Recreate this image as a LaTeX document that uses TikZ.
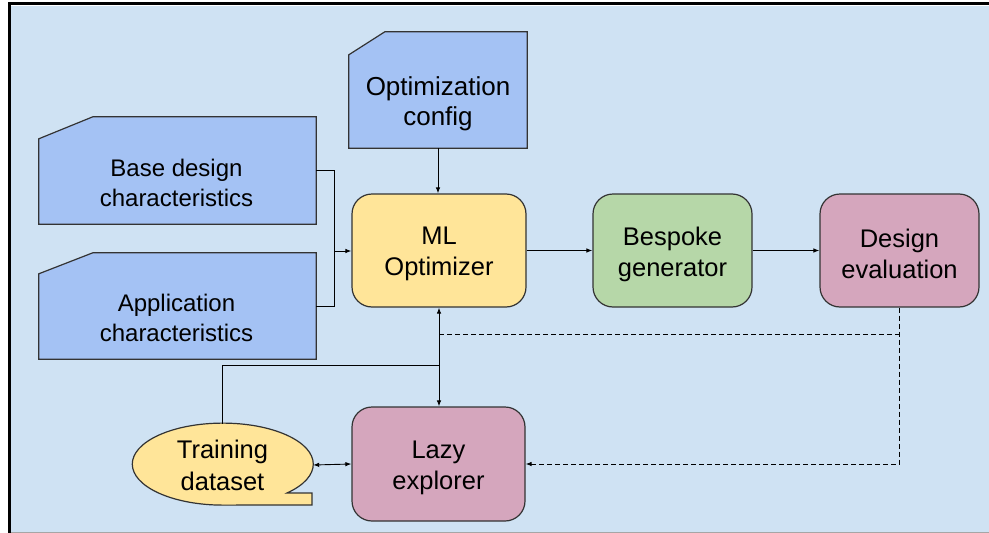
\documentclass[tikz,border=0pt]{standalone}
\usepackage{fontspec}
\setmainfont{Liberation Sans}
\usetikzlibrary{shapes.geometric,arrows.meta,calc}
\definecolor{bgblue}{HTML}{CFE2F3}
\definecolor{boxblue}{HTML}{A4C2F4}
\definecolor{boxyellow}{HTML}{FFE599}
\definecolor{boxgreen}{HTML}{B6D7A8}
\definecolor{boxpink}{HTML}{D5A6BD}
\definecolor{edge}{HTML}{333333}
\tikzset{
  shapeline/.style={draw=edge,line width=1.2pt},
  txt/.style={align=center,font=\fontsize{24}{30}\selectfont,inner sep=0pt},
  bigtxt/.style={align=center,font=\fontsize{25.5}{31}\selectfont,inner sep=0pt},
  anchorbox/.style={rectangle,inner sep=0pt},
  roundbox/.style={shapeline,rounded corners=20pt,rectangle,inner sep=0pt},
  conn/.style={draw=black,line width=0.9pt},
  arr/.style={conn,-{Latex[length=6pt,width=4.5pt]}},
  darr/.style={conn,{Latex[length=6pt,width=4.5pt]}-{Latex[length=6pt,width=4.5pt]}},
  dashconn/.style={conn,dash pattern=on 5pt off 3pt}
}
\begin{document}
\begin{tikzpicture}[x=1pt,y=-1pt]
\useasboundingbox (0,0) rectangle (989,533);
% page frame
\fill[white] (0,0) rectangle (989,533);
\fill[bgblue] (11,6) rectangle (989,532);
\draw[gray!70,line width=1pt] (11,532) -- (989,532);
\draw[black,line width=3pt] (8,3.5) -- (989,3.5);
\draw[black,line width=3pt] (9.5,2) -- (9.5,533);

% snipped input boxes
\node[anchorbox,minimum width=178pt,minimum height=116pt] (optcfg) at (438,90) {};
\filldraw[shapeline,fill=boxblue] ($(optcfg.north west)+(0,23)$) -- ($(optcfg.north west)+(36,0)$) -- (optcfg.north east) -- (optcfg.south east) -- (optcfg.south west) -- cycle;
\node[align=center,font=\fontsize{26}{30}\selectfont,inner sep=0pt] at (438,104) {Optimization\\config};

\node[anchorbox,minimum width=277pt,minimum height=107pt] (base) at (177.5,170.5) {};
\filldraw[shapeline,fill=boxblue] ($(base.north west)+(0,22)$) -- ($(base.north west)+(54,0)$) -- (base.north east) -- (base.south east) -- (base.south west) -- cycle;
\node[txt] at (176.5,182.5) {Base design\\characteristics};

\node[anchorbox,minimum width=277pt,minimum height=106pt] (app) at (177.5,306) {};
\filldraw[shapeline,fill=boxblue] ($(app.north west)+(0,21)$) -- ($(app.north west)+(54,0)$) -- (app.north east) -- (app.south east) -- (app.south west) -- cycle;
\node[txt] at (176.5,317.5) {Application\\characteristics};

% process boxes
\node[roundbox,fill=boxyellow,minimum width=174pt,minimum height=113pt] (ml) at (439,250.5) {};
\node[bigtxt] at ($(ml)+(0,3.5)$) {ML\\Optimizer};
\node[roundbox,fill=boxgreen,minimum width=159pt,minimum height=113pt] (bes) at (672.5,250.5) {};
\node[bigtxt] at ($(bes)+(0,3.5)$) {Bespoke\\generator};
\node[roundbox,fill=boxpink,minimum width=159pt,minimum height=113pt] (des) at (899.5,250.5) {};
\node[bigtxt] at ($(des)+(0,3.5)$) {Design\\evaluation};
\node[roundbox,fill=boxpink,minimum width=173pt,minimum height=114pt] (lazy) at (438.5,464) {};
\node[bigtxt] at ($(lazy)+(0,3.5)$) {Lazy\\explorer};

% training dataset (oval callout)
\filldraw[shapeline,fill=boxyellow] (287,493) arc[start angle=44.8,end angle=-270,x radius=90.5,y radius=41] -- (312,505) -- (312,493) -- cycle;
\node[ellipse,inner sep=0pt,minimum width=181pt,minimum height=82pt,align=center,font=\fontsize{25.5}{32}\selectfont] (train) at (222.5,465) {Training\\dataset};

% junction coordinates
\coordinate (jin) at (334,251);
\coordinate (jtr) at (439,365);
\coordinate (jds) at (439,334);

% connectors
\draw[conn] (base.east) -| (jin);
\draw[conn] (app.east) -| (jin);
\draw[arr] (jin) -- (jin -| ml.west);
\draw[arr] (optcfg.south) -- (optcfg.south |- ml.north);
\draw[arr] (ml.east) -- (bes.west);
\draw[arr] (bes.east) -- (des.west);
\draw[darr] (ml.south) -- (ml.south |- lazy.north);
\draw[conn] (train.north) |- (jtr);
\draw[darr] (train.east) -- (lazy.west);
\draw[dashconn,-{Latex[length=6pt,width=4.5pt]}] (des.south) |- (lazy.east);
\draw[dashconn] (des.south |- jds) -- (jds);
\end{tikzpicture}
\end{document}
